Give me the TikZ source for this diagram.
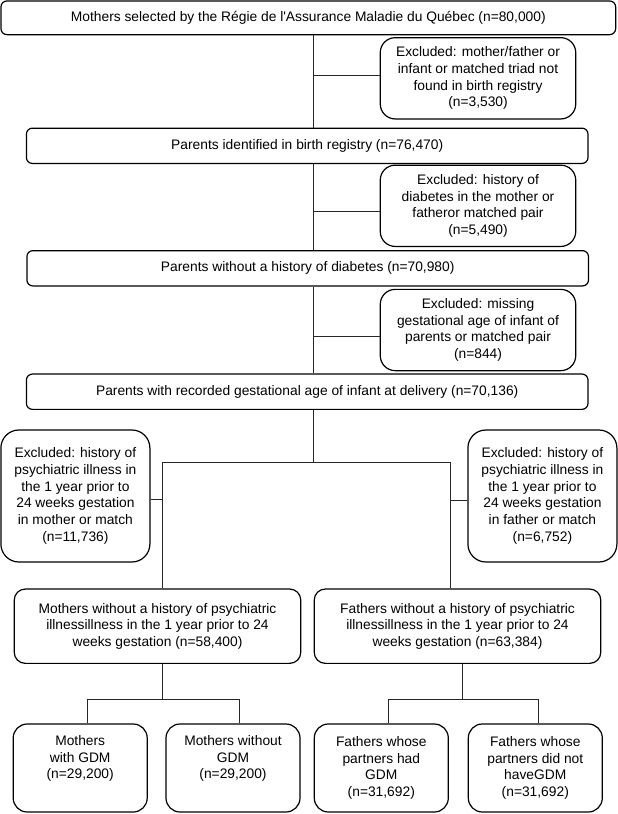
\documentclass[tikz,border=0pt]{standalone}
\usepackage{fontspec}
\setmainfont{Liberation Sans}
\usepackage{tikz}
\usetikzlibrary{positioning, calc}

\tikzset{
  mainbox/.style={draw, line width=1.2pt, rounded corners=6pt, inner sep=0pt,
                  minimum width=561.6pt, minimum height=35.3pt, align=center},
  exclbox/.style={draw, line width=1.2pt, rounded corners=15pt, inner sep=0pt,
                  minimum width=195.5pt, minimum height=81.3pt, align=center},
  psychbox/.style={exclbox, rounded corners=18pt,
                   minimum width=149pt, minimum height=132pt},
  groupbox/.style={draw, line width=1.2pt, rounded corners=11pt, inner sep=0pt,
                   minimum width=286.5pt, minimum height=74.3pt, align=center},
  leafbox/.style={draw, line width=1.2pt, rounded corners=14pt, inner sep=0pt,
                  minimum width=134pt, minimum height=88pt, align=center},
  link/.style={line width=0.9pt, draw=black!85}
}

\begin{document}
\begin{tikzpicture}[x=1pt, y=-1pt, font=\fontsize{13.8}{16.7}\selectfont]
  \useasboundingbox (0,0) rectangle (618,814);

  % main stream
  \node[mainbox, minimum width=614.7pt, minimum height=33.7pt] (sel) at (308.3,17.8)
    {Mothers selected by the Régie de l\textquotesingle Assurance Maladie du Québec (n=80,000)};
  \node[exclbox] (exreg) at (478,78.3)
    {Excluded: mother/father or\\infant or matched triad not\\found in birth registry\\(n=3,530)};
  \node[mainbox] (reg) at (307.2,145.8)
    {Parents identified in birth registry (n=76,470)};
  \node[exclbox] (exdiab) at (478,205.8)
    {Excluded: history of\\diabetes in the mother or\\fatheror matched pair\\(n=5,490)};
  \node[mainbox] (nodiab) at (307.7,268.3)
    {Parents without a history of diabetes (n=70,980)};
  \node[exclbox] (exgest) at (478,330)
    {Excluded: missing\\gestational age of infant of\\parents or matched pair\\(n=844)};
  \node[mainbox] (gest) at (307.2,391.7)
    {Parents with recorded gestational age of infant at delivery (n=70,136)};

  % split by parent
  \node[psychbox] (exmom) at (75.4,496)
    {Excluded: history of\\psychiatric illness in\\the 1 year prior to\\24 weeks gestation\\in mother or match\\(n=11,736)};
  \node[psychbox] (exdad) at (542.4,496)
    {Excluded: history of\\psychiatric illness in\\the 1 year prior to\\24 weeks gestation\\in father or match\\(n=6,752)};
  \node[groupbox] (moms) at (157.5,626.2)
    {Mothers without a history of psychiatric\\illnessillness in the 1 year prior to 24\\weeks gestation (n=58,400)};
  \node[groupbox] (dads) at (457.5,626.2)
    {Fathers without a history of psychiatric\\illnessillness in the 1 year prior to 24\\weeks gestation (n=63,384)};

  % GDM groups
  \node[leafbox] (momgdm) at (80.2,768) {Mothers\\with GDM\\(n=29,200)\\\strut};
  \node[leafbox] (momnogdm) at (233,768) {Mothers without\\GDM\\(n=29,200)\\\strut};
  \node[leafbox] (dadgdm) at (381.3,768) {Fathers whose\\partners had\\GDM\\(n=31,692)};
  \node[leafbox] (dadnogdm) at (535.3,768) {Fathers whose\\partners did not\\haveGDM\\(n=31,692)};

  % connectors
  \coordinate (trunk) at (313.7,0);
  \coordinate (fork) at (313.7,462);
  \coordinate (momline) at (162.8,462);
  \coordinate (dadline) at (450.5,462);
  \coordinate (momstem) at (162.8,699.3);
  \coordinate (dadstem) at (462,699.3);
  \coordinate (mg) at (87.5,699.3);
  \coordinate (mn) at (239.3,699.3);
  \coordinate (dg) at (388.3,699.3);
  \coordinate (dn) at (538.8,699.3);

  \foreach \a/\b in {sel/reg, reg/nodiab, nodiab/gest}
    \draw[link] (trunk |- \a.south) -- (trunk |- \b.north);
  \foreach \e/\dy in {exreg/-3.3, exdiab/5.2, exgest/6.7}
    \draw[link] ($(\e.west)+(0,\dy)$) coordinate (tap) -- (trunk |- tap);

  \draw[link] (trunk |- gest.south) -- (fork);
  \draw[link] (moms.north -| momline) -- (momline) -- (dadline) -- (dads.north -| dadline);
  \draw[link] ($(exmom.east)+(0,3.3)$) coordinate (tap) -- (momline |- tap);
  \draw[link] ($(exdad.west)+(0,4)$) coordinate (tap) -- (dadline |- tap);

  \draw[link] (moms.south -| momstem) -- (momstem);
  \draw[link] (momgdm.north -| mg) -- (mg) -- (mn) -- (momnogdm.north -| mn);
  \draw[link] (dads.south -| dadstem) -- (dadstem);
  \draw[link] (dadgdm.north -| dg) -- (dg) -- (dn) -- (dadnogdm.north -| dn);
\end{tikzpicture}
\end{document}
